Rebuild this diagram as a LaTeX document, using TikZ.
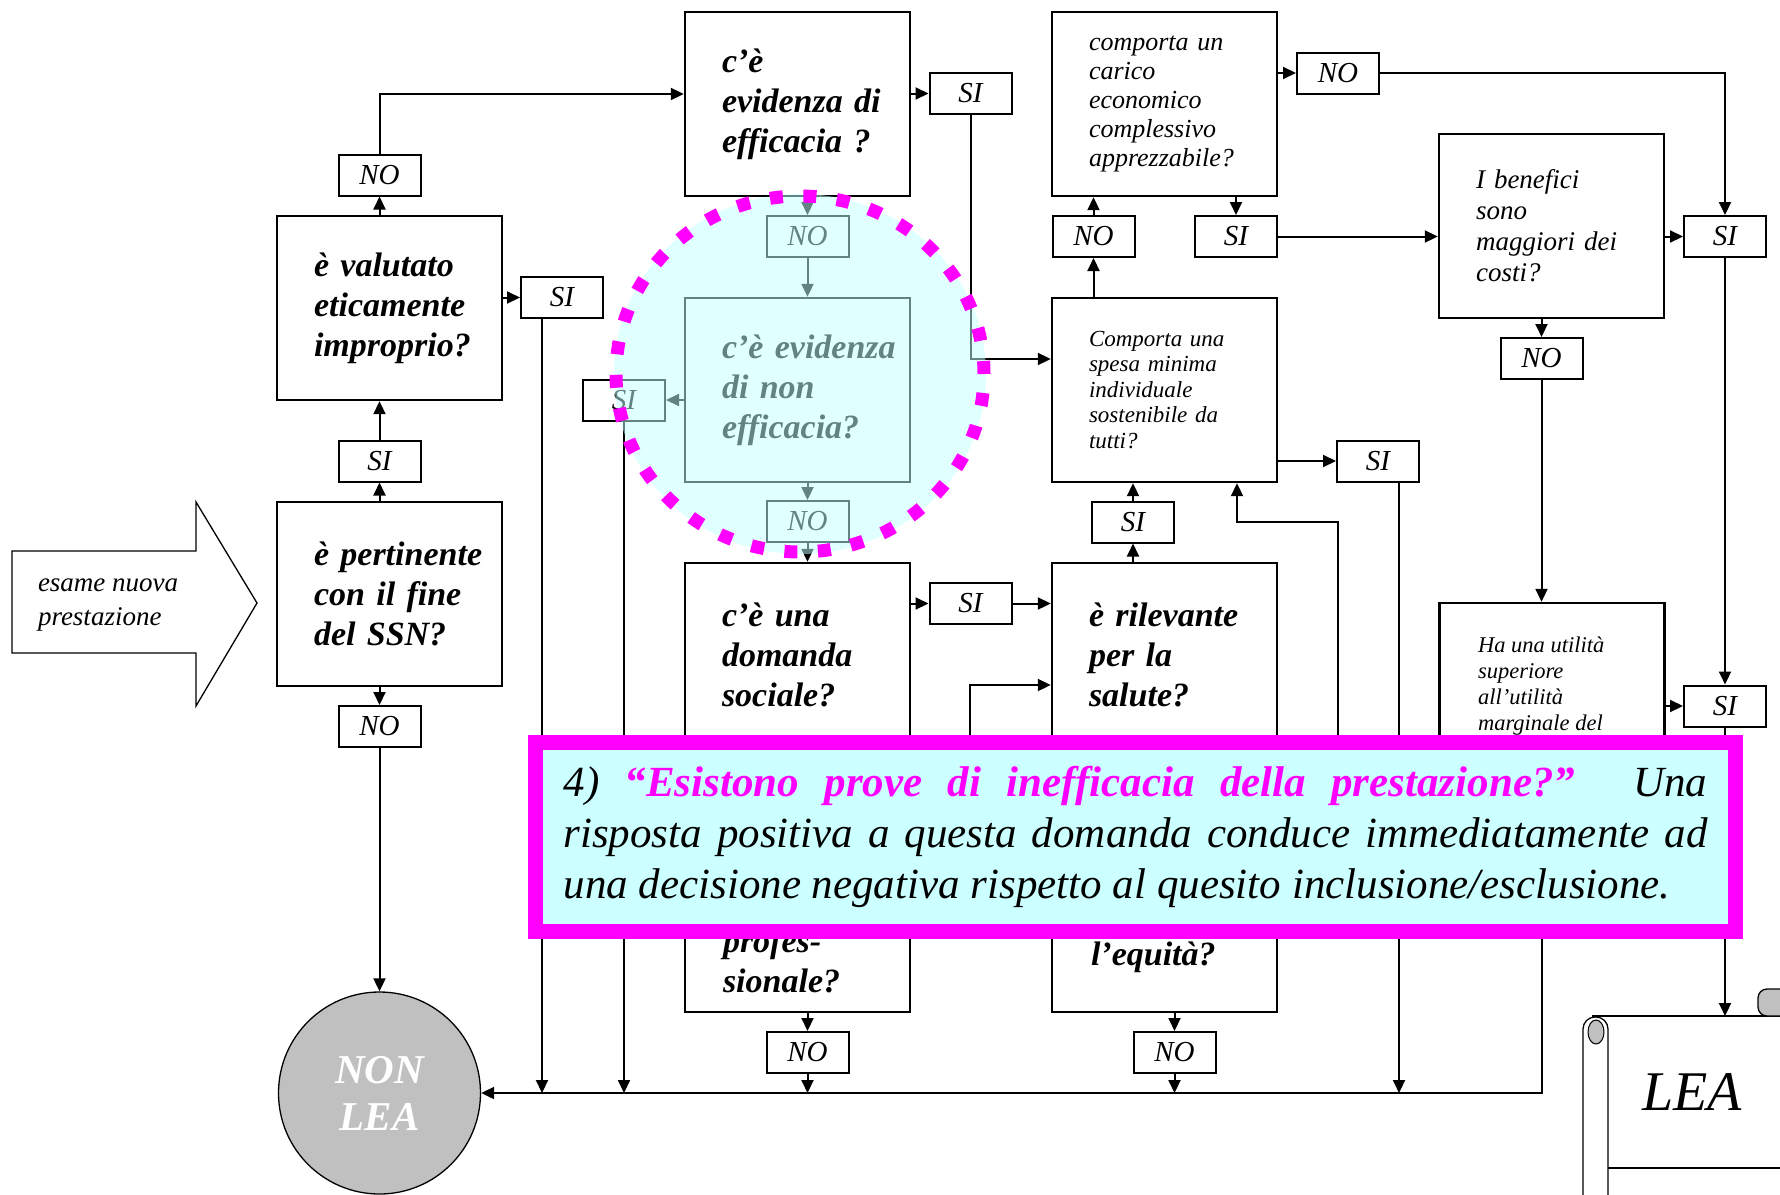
\documentclass[tikz,border=0pt]{standalone}
\usepackage{fontspec}
\setmainfont{Liberation Serif}
\usetikzlibrary{arrows.meta,positioning,calc}
\definecolor{fucsia}{RGB}{255,0,255}
\definecolor{celeste}{RGB}{204,255,255}
\definecolor{velo}{RGB}{195,255,255}
\definecolor{grigio}{RGB}{192,192,192}
\newcommand{\fqbig}{\fontsize{34}{40}\selectfont\bfseries\itshape}
\newcommand{\fcarico}{\fontsize{26}{29}\selectfont\itshape}
\newcommand{\fspesa}{\fontsize{23}{25.5}\selectfont\itshape}
\newcommand{\fbenef}{\fontsize{27}{31}\selectfont\itshape}
\newcommand{\futil}{\fontsize{22.5}{26}\selectfont\itshape}
\newcommand{\fesame}{\fontsize{27}{34}\selectfont\itshape}
\newcommand{\flab}{\fontsize{29}{30}\selectfont\itshape}
\newcommand{\fnonlea}{\fontsize{41}{47}\selectfont\bfseries\itshape}
\newcommand{\flea}{\fontsize{56}{60}\selectfont\itshape}
\newcommand{\fnote}{\fontsize{43}{51}\selectfont\itshape}
\hyphenpenalty=10000
\exhyphenpenalty=10000

\begin{document}
\begin{tikzpicture}[->,>={Triangle[length=13pt,width=12pt]},x=1pt,y=-1pt,line width=2pt]
		\useasboundingbox (0,0) rectangle (1780,1194);
		
		% Styles for the boxes
		\tikzstyle{qbox}=[draw,line width=2.4pt,minimum width=225pt,minimum height=184pt,text width=151pt,inner xsep=37pt,inner ysep=0pt,align=left,font=\fqbig]
		\tikzstyle{lbl}=[draw,minimum width=82pt,minimum height=41pt,inner sep=0pt,font=\flab]
		\tikzstyle{txt}=[inner sep=0pt,align=left,anchor=west]
		\tikzstyle{notabox}=[draw=fucsia,line width=15pt,fill=celeste,text width=1144pt,inner xsep=28pt,inner ysep=0pt,minimum height=189pt,align=justify,font=\fnote]
		
		% Input arrow
		\draw[-,line width=1.3pt] (12,551) -- (196,551) -- (196,502) -- (257,603) -- (196,706) -- (196,653) -- (12,653) -- cycle;
		\node[txt,font=\fesame] (esame) at (37,605) {esame nuova\\prestazione};
		
		% Question boxes
		\node[qbox] (pertinente) at (389.5,594) {è~pertinente\\con~il~fine\\del~SSN?};
		\node[qbox] (valutato) at (389.5,308) {è~valutato\\eticamente\\improprio?};
		\node[qbox] (evidenza) at (797.5,104) {c’è\\evidenza~di\\efficacia~?};
		\node[qbox] (nonefficacia) at (797.5,390) {c’è~evidenza\\di~non\\efficacia?};
		\node[qbox] (sociale) at (797.5,655) {c’è~una\\domanda\\sociale?};
		\node[qbox] (prof) at (797.5,920) {};
		\node[txt,font=\fqbig] (proft) at (722,961) {profes-\\sionale?};
		\node[qbox,font=\fcarico] (carico) at (1164.5,104) {comporta~un\\carico\\economico\\complessivo\\apprezzabile?};
		\node[qbox,font=\fspesa] (comporta) at (1164.5,390) {Comporta~una\\spesa~minima\\individuale\\sostenibile~da\\tutti?};
		\node[qbox] (rilevante) at (1164.5,655) {è~rilevante\\per~la\\salute?};
		\node[qbox] (equita) at (1164.5,920) {};
		\node[txt,font=\fqbig] (equitat) at (1090,957) {l’equità?};
		\node[qbox,font=\fbenef] (benefici) at (1551.5,226) {I~benefici\\sono\\maggiori~dei\\costi?};
		\node[qbox] (utilita) at (1552,695) {};
		\node[txt,font=\futil] (utilitat) at (1477,686) {Ha una utilità\\superiore\\all’utilità\\marginale del};
		
		% Answer boxes
		\node[lbl] (sipert) at (379.5,461) {SI};
		\node[lbl] (nopert) at (379.5,726.5) {NO};
		\node[lbl] (noval) at (379.5,175) {NO};
		\node[lbl] (sival) at (562,297.5) {SI};
		\node[lbl] (sievid) at (970.5,93.5) {SI};
		\node[lbl] (noevid) at (807.5,236.5) {NO};
		\node[lbl] (sinon) at (624,400) {SI};
		\node[lbl] (nonon) at (807.5,521.5) {NO};
		\node[lbl] (sisoc) at (970.5,603.5) {SI};
		\node[lbl] (noprof) at (807.5,1052.5) {NO};
		\node[lbl] (nocom) at (1093.5,236.5) {NO};
		\node[lbl] (sicar) at (1236,236.5) {SI};
		\node[lbl] (nocar) at (1338,73) {NO};
		\node[lbl] (siben) at (1725,236.5) {SI};
		\node[lbl] (noben) at (1541.5,358.5) {NO};
		\node[lbl] (sicom) at (1378,461) {SI};
		\node[lbl] (siril) at (1133,522) {SI};
		\node[lbl] (noequ) at (1174.5,1052.5) {NO};
		\node[lbl] (siuti) at (1725,706) {SI};
		
		% End states
		\node[draw,circle,fill=grigio,line width=1.3pt,minimum size=202pt,inner sep=0pt,align=center,text=white,font=\fnonlea] (nonlea) at (379.5,1093) {NON\\LEA};
		\draw[-,line width=1.3pt] (1592,1016) -- (1790,1016);
		\draw[-,line width=1.3pt] (1608,1168) -- (1790,1168);
		\draw[-,line width=1.3pt,rounded corners=12pt] (1583,1017) rectangle (1608,1215);
		\draw[-,line width=1pt,fill=grigio] (1596,1032) ellipse [x radius=8pt,y radius=12pt];
		\draw[-,line width=1.3pt,fill=grigio,rounded corners=9pt] (1758,1016) rectangle (1800,989);
		\node[font=\flea] (lea) at (1692,1092) {LEA};
		\coordinate (leatop) at (1724,1016);
		
		% Exits under the note
		\coordinate (profsi) at (970,800);
		\coordinate (equitasi) at (1338,800);
		
		% Transitions
		\draw (sipert.south |- pertinente.north) -- (sipert.south);
		\draw (sipert.north) -- (sipert.north |- valutato.south);
		\draw (noval.south |- valutato.north) -- (noval.south);
		\draw (noval.north) |- ([yshift=10pt]evidenza.west);
		\draw (valutato.east |- sival.west) -- (sival.west);
		\draw ([xshift=-20pt]sival.south) -- ([xshift=-20pt]sival.south |- nonlea.east);
		\draw (nopert.north |- pertinente.south) -- (nopert.north);
		\draw (nopert.south) -- (nopert.south |- nonlea.north);
		\draw (evidenza.east |- sievid.west) -- (sievid.west);
		\draw (sievid.south) |- ([yshift=31pt]comporta.west);
		\draw (noevid.north |- evidenza.south) -- (noevid.north);
		\draw (noevid.south) -- (noevid.south |- nonefficacia.north);
		\draw (nonefficacia.west |- sinon.east) -- (sinon.east);
		\draw (sinon.south) -- (sinon.south |- nonlea.east);
		\draw (nonon.north |- nonefficacia.south) -- (nonon.north);
		\draw (nonon.south) -- (nonon.south |- sociale.north);
		\draw (sociale.east |- sisoc.west) -- (sisoc.west);
		\draw (sisoc.east) -- (sisoc.east -| rilevante.west);
		\draw (profsi) |- ([yshift=-30pt]rilevante.west);
		\draw (noprof.north |- prof.south) -- (noprof.north);
		\draw (noprof.south) -- (noprof.south |- nonlea.east);
		\draw (siril.south |- rilevante.north) -- (siril.south);
		\draw (siril.north) -- (siril.north |- comporta.south);
		\draw (equitasi) |- ([xshift=72.5pt]comporta.south |- siril.center) -- ([xshift=72.5pt]comporta.south);
		\draw (noequ.north |- equita.south) -- (noequ.north);
		\draw (noequ.south) -- (noequ.south |- nonlea.east);
		\draw (nocom.south |- comporta.north) -- (nocom.south);
		\draw (nocom.north) -- (nocom.north |- carico.south);
		\draw (sicar.north |- carico.south) -- (sicar.north);
		\draw (sicar.east) -- (sicar.east -| benefici.west);
		\draw (carico.east |- nocar.west) -- (nocar.west);
		\draw (nocar.east) -| (siben.north);
		\draw (benefici.east |- siben.west) -- (siben.west);
		\draw (siben.south) -- (siuti.north);
		\draw (noben.north |- benefici.south) -- (noben.north);
		\draw (noben.south) -- (noben.south |- utilita.north);
		\draw (utilita.east |- siuti.west) -- (siuti.west);
		\draw (siuti.south) -- (siuti.south |- leatop);
		\draw (comporta.east |- sicom.west) -- (sicom.west);
		\draw ([xshift=21pt]sicom.south) -- ([xshift=21pt]sicom.south |- nonlea.east);
		\draw (noben.south |- utilita.south) |- (nonlea.east);
		
		% Highlight of question 4
		\fill[velo,fill opacity=0.51] (800,374) ellipse [x radius=186pt,y radius=180pt];
		\draw[-,fucsia,line width=13pt,dash pattern=on 13pt off 20.5pt] (800,374) ellipse [x radius=184pt,y radius=178pt];
		
		% Note
		\node[notabox] (nota) at (1135.5,837) {\tolerance=10000 4) {\bfseries\color{fucsia}“Esistono prove di inefficacia della prestazione?”} Una\linebreak risposta positiva a questa domanda conduce immediatamente ad\linebreak una decisione negativa rispetto al quesito inclusione/esclusione.};
		
	\end{tikzpicture}
\end{document}
